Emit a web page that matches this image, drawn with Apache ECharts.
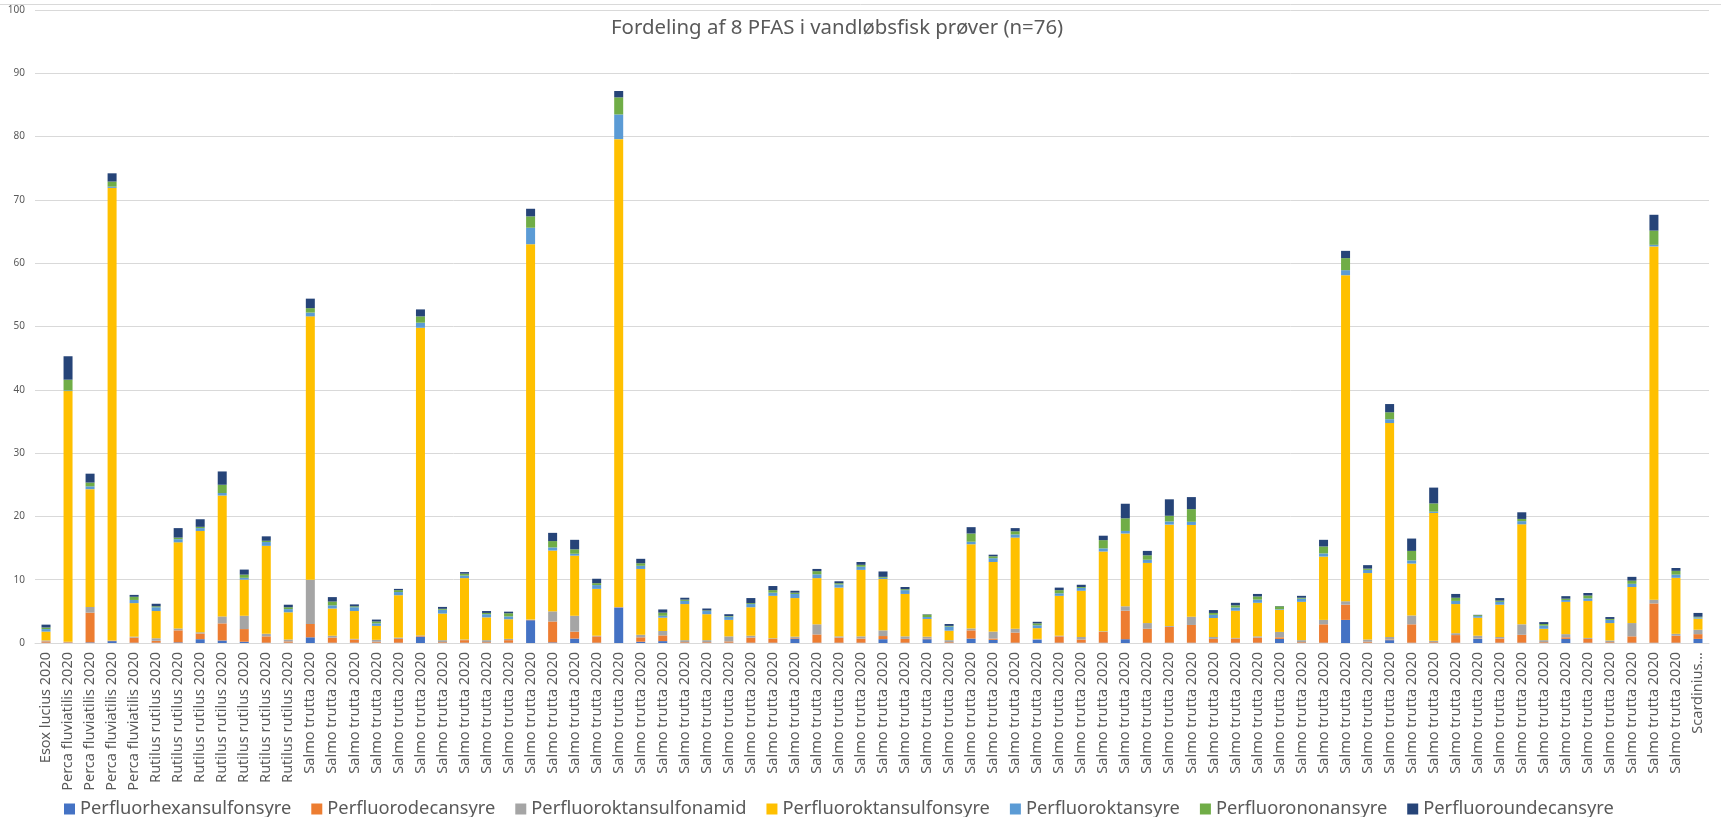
<!DOCTYPE html>
<html>
<head>
<meta charset="utf-8">
<script src="https://cdn.jsdelivr.net/npm/echarts@6/dist/echarts.min.js"></script>
<style>
html,body{margin:0;padding:0;background:#fff;}
#chart{width:1721px;height:817px;}
</style>
</head>
<body>
<div id="chart"></div>
<script>
const titleText = 'Fordeling af 8 PFAS i vandløbsfisk prøver (n=76)';

const categories = [].concat(
  ['Esox lucius 2020'],
  Array(4).fill('Perca fluviatilis 2020'),
  Array(7).fill('Rutilus rutilus 2020'),
  Array(63).fill('Salmo trutta 2020'),
  ['Scardinius erythrophthalmus 2020']
);

const seriesNames = ['Perfluorhexansulfonsyre','Perfluorodecansyre','Perfluoroktansulfonamid','Perfluoroktansulfonsyre','Perfluoroktansyre','Perfluorononansyre','Perfluoroundecansyre'];
const seriesColors = ['#4472C4','#ED7D31','#A5A5A5','#FFC000','#5B9BD5','#70AD47','#264478'];

const perfluorhexansulfonsyre = [0.05,0,0.1,0.3,0.05,0.05,0.1,0.6,0.4,0.2, 0.05,0.05,0.9,0.05,0.05,0.05,0.05,1.0,0.05,0.05, 0.05,0.05,3.6,0.1,0.7,0.05,5.6,0.2,0.3,0.05, 0.05,0.05,0.05,0.05,0.7,0.05,0.05,0.05,0.6,0.05, 0.6,0.05,0.7,0.5,0.05,0.5,0.05,0.05,0.05,0.6, 0.05,0.05,0.05,0.05,0.05,0.05,0.65,0.05,0.05,3.65, 0.05,0.45,0.05,0.05,0.05,0.65,0.05,0.05,0.05,0.65, 0.05,0.05,0.05,0.05,0.05,0.65];
const perfluorodecansyre = [0.2,0.1,4.7,0.05,0.8,0.3,1.9,0.9,2.7,2.0, 1.0,0.2,2.1,0.8,0.5,0.15,0.6,0.1,0.1,0.4, 0.1,0.4,0.05,3.3,1.1,1.0,0.05,0.7,0.9,0.1, 0.1,0.2,0.8,0.6,0.1,1.3,0.8,0.65,0.5,0.6, 0.1,0.1,1.3,0.2,1.6,0.05,1.0,0.5,1.7,4.5, 2.2,2.5,2.8,0.6,0.65,0.8,0.25,0.1,2.9,2.4, 0.15,0.1,2.9,0.1,1.2,0.05,0.65,1.25,0.1,0.25, 0.6,0.1,1.0,6.2,1.1,0.75];
const perfluoroktansulfonamid = [0.15,0.1,0.9,0.05,0.15,0.4,0.3,0.2,1.1,2.1, 0.4,0.3,7.0,0.3,0.1,0.3,0.2,0.1,0.3,0.1, 0.3,0.2,0.05,1.6,2.5,0.1,0.05,0.4,0.7,0.3, 0.3,0.8,0.3,0.1,0.2,1.6,0.2,0.35,0.9,0.4, 0.3,0.3,0.3,1.1,0.6,0.1,0.1,0.4,0.1,0.7, 0.9,0.15,1.3,0.3,0.1,0.2,0.85,0.3,0.7,0.55, 0.35,0.4,1.4,0.2,0.3,0.45,0.25,1.65,0.3,0.5, 0.15,0.25,2.1,0.6,0.3,0.7];
const perfluoroktansulfonsyre = [1.4,39.6,18.6,71.5,5.3,4.3,13.6,16.0,19.1,5.7, 13.9,4.3,41.6,4.3,4.4,2.2,6.7,48.6,4.2,9.7, 3.6,3.1,59.3,9.6,9.5,7.4,73.9,10.4,2.1,5.7, 4.1,2.6,4.5,6.7,6.1,7.3,7.7,10.5,8.1,6.7, 2.8,1.5,13.3,11.0,14.4,1.7,6.3,7.3,12.6,11.5, 9.5,16.0,14.5,3.0,4.3,5.3,3.5,6.05,10.0,51.5, 10.5,33.8,8.2,20.2,4.6,2.85,5.1,15.8,1.8,5.1, 5.85,2.75,5.7,55.8,8.85,1.75];
const perfluoroktansyre = [0.4,0.1,0.45,0.2,0.5,0.6,0.5,0.45,0.4,0.3, 0.6,0.5,0.6,0.5,0.6,0.4,0.5,0.8,0.6,0.4, 0.5,0.45,2.6,0.5,0.3,0.6,3.9,0.5,0.3,0.5, 0.5,0.5,0.5,0.5,0.65,0.6,0.5,0.5,0.2,0.6, 0.3,0.65,0.4,0.6,0.5,0.45,0.4,0.45,0.5,0.4, 0.5,0.5,0.5,0.5,0.5,0.5,0.1,0.5,0.5,0.8, 0.5,0.6,0.5,0.2,0.5,0.25,0.45,0.5,0.5,0.3, 0.4,0.5,0.5,0.25,0.5,0.2];
const perfluorononansyre = [0.25,1.7,0.6,0.8,0.5,0.15,0.25,0.2,1.3,0.5, 0.2,0.3,0.7,0.6,0.15,0.3,0.3,1.0,0.15,0.3, 0.2,0.5,1.8,1.0,0.7,0.3,2.7,0.4,0.5,0.2, 0.1,0.1,0.15,0.4,0.2,0.5,0.2,0.3,0.15,0.15, 0.4,0.1,1.3,0.3,0.5,0.3,0.5,0.15,1.3,2.0, 0.7,0.9,2.0,0.3,0.35,0.5,0.45,0.15,1.1,1.9, 0.2,1.1,1.5,1.3,0.5,0.15,0.2,0.35,0.25,0.2, 0.45,0.15,0.5,2.25,0.6,0.1];
const perfluoroundecansyre = [0.45,3.7,1.4,1.3,0.3,0.4,1.5,1.2,2.1,0.8, 0.7,0.4,1.5,0.7,0.3,0.3,0.2,1.1,0.3,0.25, 0.3,0.25,1.2,1.3,1.5,0.7,1.0,0.7,0.5,0.3, 0.3,0.3,0.8,0.65,0.3,0.35,0.3,0.45,0.85,0.35, 0.05,0.3,1.0,0.25,0.5,0.25,0.4,0.35,0.7,2.3, 0.7,2.6,1.9,0.45,0.4,0.4,0.05,0.3,1.05,1.15, 0.55,1.3,1.95,2.5,0.6,0.05,0.4,1.05,0.3,0.4, 0.4,0.3,0.6,2.5,0.45,0.6];

const yTicks = {min: 0, max: 100, interval: 10};

const seriesData = [perfluorhexansulfonsyre, perfluorodecansyre, perfluoroktansulfonamid, perfluoroktansulfonsyre, perfluoroktansyre, perfluorononansyre, perfluoroundecansyre];

const FONT = '"Noto Sans", "Open Sans", sans-serif';
const chart = echarts.init(document.getElementById('chart'), null, {renderer: 'canvas'});

chart.setOption({
  animation: false,
  backgroundColor: '#ffffff',
  title: {
    text: titleText,
    left: 606,
    top: 13,
    textStyle: {fontFamily: FONT, fontSize: 20.4, fontWeight: 'normal', color: '#595959'}
  },
  legend: {
    data: seriesNames,
    left: 59,
    top: 795,
    itemWidth: 11,
    itemHeight: 11,
    itemGap: 20,
    icon: 'rect',
    textStyle: {fontFamily: FONT, fontSize: 18.3, color: '#595959'}
  },
  grid: {left: 35, right: 12, top: 10, bottom: 174, containLabel: false},
  graphic: [{
    type: 'line', shape: {x1: 0, y1: 4.5, x2: 1721, y2: 4.5},
    style: {stroke: '#d9d9d9', lineWidth: 1}
  }],
  xAxis: {
    type: 'category',
    data: categories,
    axisLine: {lineStyle: {color: '#d9d9d9'}},
    axisTick: {show: false},
    axisLabel: {
      interval: 0, rotate: 90, margin: 9,
      fontFamily: FONT, fontSize: 14.5, color: '#595959',
      formatter: v => v.length > 25 ? v.split(' ')[0] + '...' : v
    }
  },
  yAxis: {
    type: 'value',
    min: yTicks.min, max: yTicks.max, interval: yTicks.interval,
    axisLine: {show: false},
    axisTick: {show: false},
    axisLabel: {fontFamily: FONT, fontSize: 10, color: '#595959', margin: 10},
    splitLine: {lineStyle: {color: '#d9d9d9'}}
  },
  series: seriesNames.map((n, i) => ({
    name: n,
    type: 'bar',
    stack: 'total',
    barWidth: 9,
    itemStyle: {color: seriesColors[i]},
    data: seriesData[i]
  }))
});
</script>
</body>
</html>
